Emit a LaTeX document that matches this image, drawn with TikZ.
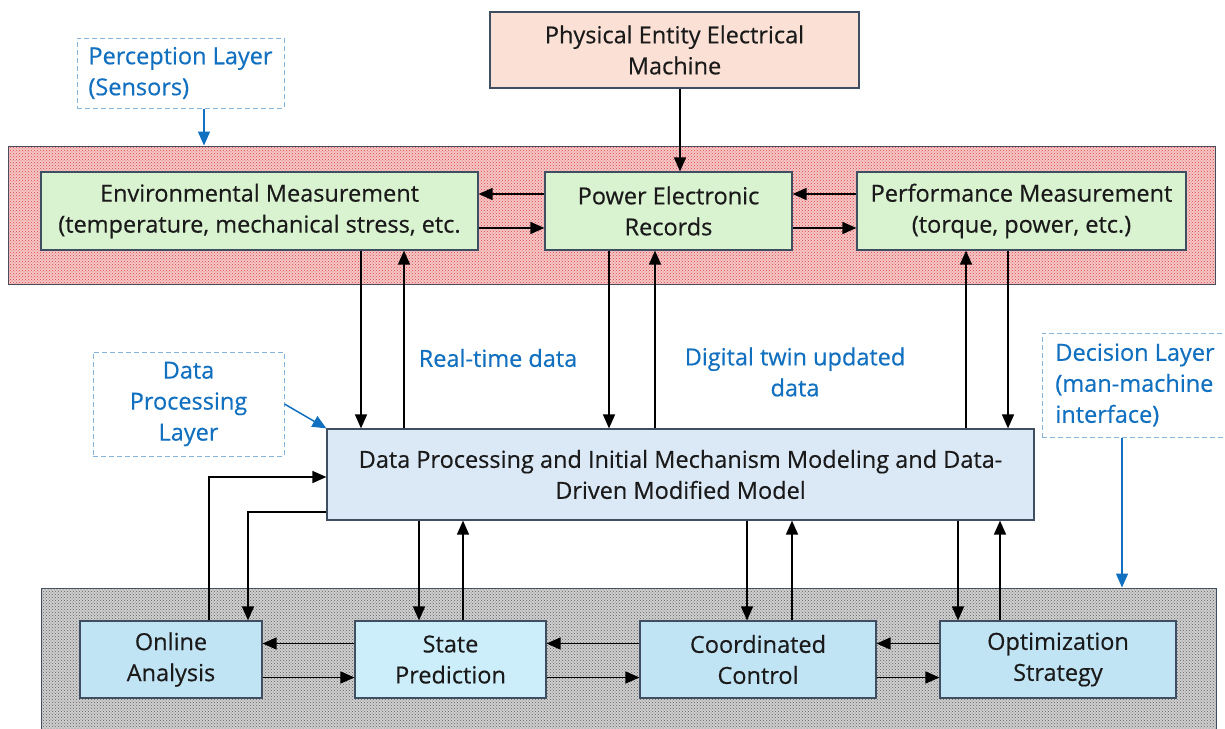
\documentclass[tikz,border=0pt]{standalone}
\usepackage{fontspec}
\setmainfont{Open Sans}[FakeBold=0.4]
\usetikzlibrary{arrows.meta,patterns}
\definecolor{bordc}{HTML}{3F4E60}
\definecolor{physc}{HTML}{FBE1D5}
\definecolor{greenc}{HTML}{D9F2D0}
\definecolor{dpc}{HTML}{DBE8F6}
\definecolor{botc}{HTML}{C1E4F5}
\definecolor{spc}{HTML}{CCEEFB}
\definecolor{bluet}{HTML}{1170C0}
\definecolor{dashc}{HTML}{84B4DE}
\definecolor{redbase}{HTML}{F5C8C8}
\definecolor{reddot}{HTML}{E04040}
\definecolor{graybase}{HTML}{CFCFCF}
\definecolor{graydot}{HTML}{606060}
\definecolor{textc}{HTML}{1A1A1A}
\begin{document}
\begin{tikzpicture}[x=1pt,y=-1pt,
  txt/.style={font=\fontsize{23.5}{31}\selectfont, text=textc, align=center},
  bluetxt/.style={font=\fontsize{23.5}{31}\selectfont, text=bluet, align=center},
  solidbox/.style={txt, draw=bordc, line width=1.2pt, inner sep=0pt},
  physbox/.style={solidbox, fill=physc},
  greenbox/.style={solidbox, fill=greenc},
  dpbox/.style={solidbox, fill=dpc},
  botbox/.style={solidbox, fill=botc},
  dashbox/.style={bluetxt, draw=dashc, line width=1pt, dash pattern=on 5pt off 3pt, inner sep=0pt},
  redband/.style={draw=bordc, line width=1pt, fill=redbase, postaction={pattern=crosshatch dots, pattern color=reddot}},
  grayband/.style={draw=bordc, line width=1pt, fill=graybase, postaction={pattern=crosshatch dots, pattern color=graydot}},
  arr/.style={draw=black, line width=1.5pt, -{Triangle[length=14pt,width=12pt]}},
  barr/.style={draw=bluet, line width=1.5pt, -{Triangle[length=14pt,width=12pt]}}
]
\useasboundingbox[fill=white] (0,0) rectangle (1225,728);

% bands
\node[redband, minimum width=1207pt, minimum height=138pt, inner sep=0pt] (rband) at (611.5,215) {};
\node[grayband, minimum width=1175pt, minimum height=160pt, inner sep=0pt] (gband) at (628.5,668) {};

% top
\node[physbox, minimum width=369pt, minimum height=76pt] (phys) at (674.5,50) {Physical Entity Electrical\\Machine};
\node[dashbox, minimum width=207pt, minimum height=70pt, align=left] (perc) at (180.5,73) {Perception Layer\\(Sensors)};

\node[greenbox, minimum width=437pt, minimum height=78pt] (env) at (259.5,211) {Environmental Measurement\\(temperature, mechanical stress, etc.};
\node[greenbox, minimum width=247pt, minimum height=78pt] (pwr) at (668.5,211) {Power Electronic\\Records};
\node[greenbox, minimum width=329pt, minimum height=78pt] (perf) at (1021.5,211) {Performance Measurement\\(torque, power, etc.)};

% middle
\node[dashbox, minimum width=191pt, minimum height=104pt] (dpl) at (188.5,404) {Data\\Processing\\Layer};
\node[dashbox, minimum width=186pt, minimum height=104pt, align=left] (dec) at (1135,385) {Decision Layer\\(man-machine\\interface)};
\node[bluetxt] (rtd) at (498,358) {Real-time data};
\node[bluetxt] (dtu) at (795,372) {Digital twin updated\\data};
\node[dpbox, minimum width=707pt, minimum height=91pt] (dp) at (680.5,474.5) {Data Processing and Initial Mechanism Modeling and Data-\\Driven Modified Model};

% bottom
\node[botbox, minimum width=182pt, minimum height=77pt] (oa) at (171,659.5) {Online\\Analysis};
\node[botbox, fill=spc, minimum width=191pt, minimum height=77pt] (sp) at (450.5,659.5) {State\\Prediction};
\node[botbox, minimum width=236pt, minimum height=77pt] (cc) at (758,659.5) {Coordinated\\Control};
\node[botbox, minimum width=236pt, minimum height=77pt] (opt) at (1058,659.5) {Optimization\\Strategy};

% blue arrows
\draw[barr] ([xshift=23.5pt]perc.south) -- ([xshift=23.5pt]perc.south |- rband.north);
\draw[barr] (dpl.east) -- (dp.north west);
\draw[barr] ([xshift=-13pt]dec.south) -- ([xshift=-13pt]dec.south |- gband.north);

% top arrows
\draw[arr] ([xshift=5.5pt]phys.south) -- ([xshift=5.5pt]phys.south |- pwr.north);
\draw[arr] ([yshift=17pt]pwr.west) -- ([yshift=17pt]pwr.west -| env.east);
\draw[arr] ([yshift=-17pt]env.east) -- ([yshift=-17pt]env.east -| pwr.west);
\draw[arr] ([yshift=17pt]perf.west) -- ([yshift=17pt]perf.west -| pwr.east);
\draw[arr] ([yshift=-17pt]pwr.east) -- ([yshift=-17pt]pwr.east -| perf.west);

% top <-> dp
\draw[arr] ([xshift=101.5pt]env.south) -- ([xshift=101.5pt]env.south |- dp.north);
\draw[arr] ([xshift=-276.5pt]dp.north) -- ([xshift=-276.5pt]dp.north |- env.south);
\draw[arr] ([xshift=-59.5pt]pwr.south) -- ([xshift=-59.5pt]pwr.south |- dp.north);
\draw[arr] ([xshift=-25.5pt]dp.north) -- ([xshift=-25.5pt]dp.north |- pwr.south);
\draw[arr] ([xshift=285.5pt]dp.north) -- ([xshift=285.5pt]dp.north |- perf.south);
\draw[arr] ([xshift=-13.5pt]perf.south) -- ([xshift=-13.5pt]perf.south |- dp.north);

% dp <-> bottom
\draw[arr] ([xshift=38pt]oa.north) |- ([yshift=-2.5pt]dp.west);
\draw[arr] ([yshift=-37.5pt]dp.west) -| ([xshift=77pt]oa.north);
\draw[arr] ([xshift=-261.5pt]dp.south) -- ([xshift=-261.5pt]dp.south |- sp.north);
\draw[arr] ([xshift=12.5pt]sp.north) -- ([xshift=12.5pt]sp.north |- dp.south);
\draw[arr] ([xshift=66.5pt]dp.south) -- ([xshift=66.5pt]dp.south |- cc.north);
\draw[arr] ([xshift=34pt]cc.north) -- ([xshift=34pt]cc.north |- dp.south);
\draw[arr] ([xshift=277.5pt]dp.south) -- ([xshift=277.5pt]dp.south |- opt.north);
\draw[arr] ([xshift=-58pt]opt.north) -- ([xshift=-58pt]opt.north |- dp.south);

% bottom horizontals
\draw[arr] ([yshift=16pt]sp.west) -- ([yshift=16pt]sp.west -| oa.east);
\draw[arr] ([yshift=-18pt]oa.east) -- ([yshift=-18pt]oa.east -| sp.west);
\draw[arr] ([yshift=16pt]cc.west) -- ([yshift=16pt]cc.west -| sp.east);
\draw[arr] ([yshift=-18pt]sp.east) -- ([yshift=-18pt]sp.east -| cc.west);
\draw[arr] ([yshift=16pt]opt.west) -- ([yshift=16pt]opt.west -| cc.east);
\draw[arr] ([yshift=-18pt]cc.east) -- ([yshift=-18pt]cc.east -| opt.west);
\end{tikzpicture}
\end{document}
